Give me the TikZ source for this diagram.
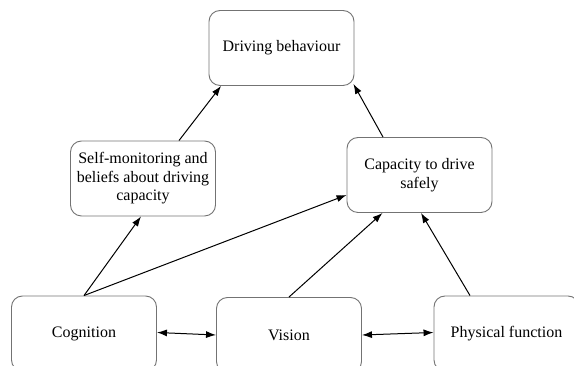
\documentclass[tikz,border=0pt]{standalone}
\usepackage{fontspec}
\setmainfont{Liberation Serif}
\usetikzlibrary{calc,positioning,arrows.meta}

\begin{document}
\begin{tikzpicture}[x=1pt,y=1pt,inner sep=0.4mm,
  box/.style={draw=black!55,line width=0.9pt,rounded corners=11pt,
    minimum width=145pt,minimum height=75pt,align=center,
    font=\fontsize{16}{18.5}\selectfont},
  link/.style={line width=1pt,-{Latex[length=10pt,width=7pt]}},
  both/.style={line width=1pt,{Latex[length=10pt,width=7pt]}-{Latex[length=10pt,width=7pt]}}]
\useasboundingbox (0,0) rectangle (574,366);
\clip (0,0) rectangle (574,366);

\node [box] (drive) at (281.5,318) {Driving behaviour};
\node [box] (self) at (143,187.5) {Self-monitoring and\\beliefs about driving\\capacity};
\node [box] (safe) at (419.5,191) {Capacity to drive\\safely};
\node [box] (cog) at (84,32.5) {Cognition};
\node [box] (vis) at (289,31) {Vision};
\node [box] (phys) at (506.5,32.5) {Physical function};

% arrows to the top
\draw [link] ([xshift=36pt]self.north) -- ([xshift=12.5pt]drive.south west);
\draw [link] ([xshift=-36.5pt]safe.north) -- ([xshift=-1pt,yshift=2pt]drive.south east);

% arrows from the bottom row
\draw [link] (cog.north) -- ([xshift=-2pt]self.south);
\draw [link] (cog.north) -- ([yshift=-20pt]safe.west);
\draw [link] (vis.north) -- ([xshift=-37pt]safe.south);
\draw [link] ([xshift=-36.5pt]phys.north) -- ([xshift=1.5pt]safe.south);

\draw [both] ([yshift=1pt]cog.east) -- (vis.west);
\draw [both] (vis.east) -- ([yshift=1pt]phys.west);
\end{tikzpicture}
\end{document}
